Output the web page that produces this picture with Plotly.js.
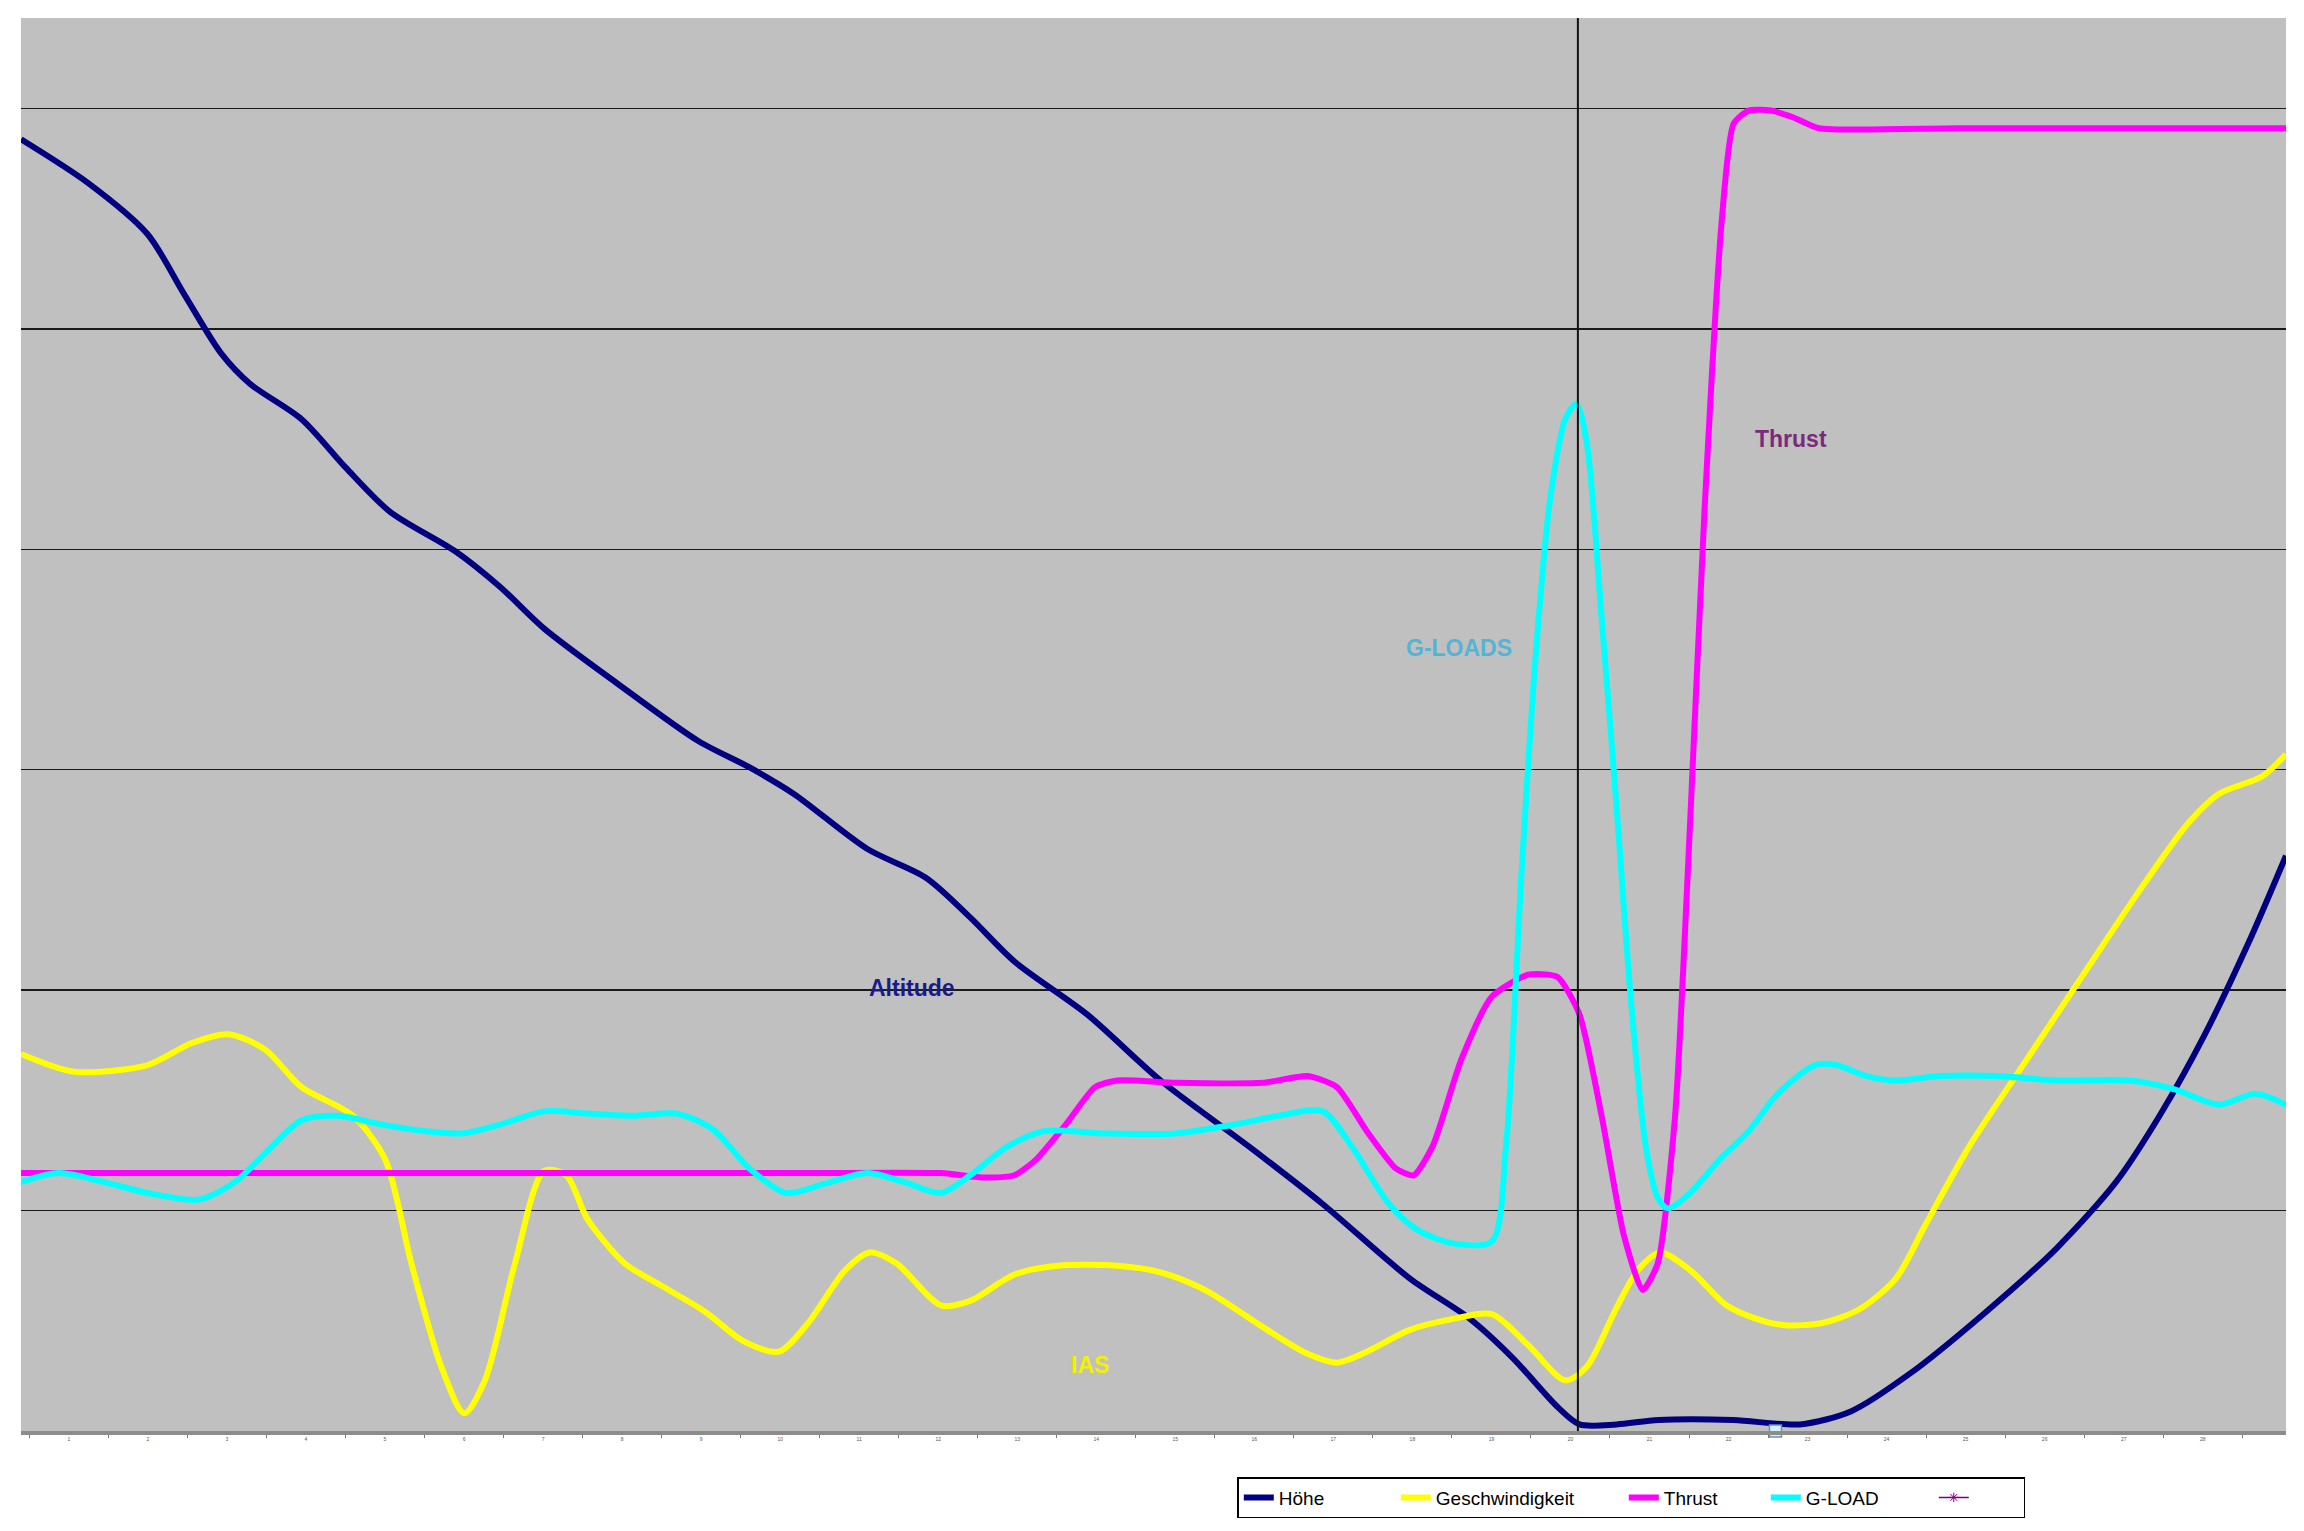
<!DOCTYPE html>
<html>
<head>
<meta charset="utf-8">
<script src="https://cdn.plot.ly/plotly-3.0.1.min.js"></script>
<style>html,body{margin:0;padding:0;background:#fff;}#chart{width:2304px;height:1531px;}</style>
</head>
<body>
<div id="chart"></div>
<script>
// ---- data (x = sample index, y = normalised chart units) ----
const altX = [0,0.855,1.60,2.06,2.53,2.90,3.55,4.11,4.67,5.50,6.06,6.62,7.55,8.57,9.22,9.78,10.71,11.45,12.01,12.57,13.49,14.42,15.54,16.47,17.58,18.33,18.88,19.44,19.72,20.19,20.72,21.67,22.51,23.16,23.90,24.83,25.76,26.51,27.06,27.62,28.18,28.66];
const altY = [5.86,5.66,5.43,5.16,4.89,4.75,4.59,4.37,4.17,3.99,3.83,3.64,3.39,3.13,3.01,2.89,2.64,2.51,2.33,2.13,1.89,1.59,1.29,1.03,0.69,0.51,0.33,0.11,0.03,0.03,0.05,0.05,0.03,0.09,0.26,0.53,0.83,1.13,1.43,1.79,2.21,2.61];

const iasX = [0,0.67,1.60,2.16,2.62,3.09,3.55,4.20,4.61,4.94,5.32,5.61,5.87,6.25,6.62,6.90,7.17,7.64,8.10,8.66,9.13,9.59,9.96,10.43,10.74,11.08,11.64,12.01,12.57,13.12,13.87,14.42,14.98,15.72,16.28,16.65,17.03,17.58,18.14,18.61,19.07,19.54,19.81,20.19,20.46,20.74,21.12,21.58,21.95,22.32,22.79,23.25,23.72,24.09,24.65,25.39,26.13,26.88,27.43,27.81,28.36,28.66];
const iasY = [1.71,1.63,1.66,1.76,1.80,1.73,1.56,1.43,1.23,0.76,0.29,0.08,0.23,0.76,1.18,1.16,0.96,0.76,0.66,0.54,0.41,0.36,0.49,0.73,0.81,0.76,0.57,0.59,0.71,0.75,0.75,0.72,0.64,0.47,0.35,0.31,0.36,0.46,0.51,0.53,0.39,0.23,0.29,0.56,0.73,0.81,0.73,0.57,0.51,0.48,0.49,0.55,0.69,0.93,1.29,1.69,2.09,2.49,2.76,2.89,2.97,3.07];

const thrustX = [0,1.6,3.6,5.6,7.6,9.6,11.64,12.19,12.57,12.84,13.22,13.59,13.87,14.61,15.72,16.28,16.65,17.03,17.40,17.62,17.86,18.23,18.61,19.07,19.44,19.72,20.00,20.28,20.52,20.71,20.93,21.12,21.30,21.52,21.67,21.86,22.14,22.42,22.75,24.5,26.5,28.66];
const thrustY = [1.17,1.17,1.17,1.17,1.17,1.17,1.17,1.15,1.16,1.23,1.39,1.56,1.59,1.58,1.58,1.61,1.56,1.36,1.19,1.16,1.29,1.69,1.97,2.07,2.06,1.89,1.43,0.89,0.64,0.76,1.43,2.76,4.16,5.49,5.93,5.99,5.99,5.96,5.91,5.91,5.91,5.91];

const gX = [0,0.48,1.04,1.60,2.25,2.71,3.09,3.55,4.01,4.57,5.13,5.59,6.06,6.62,7.17,7.73,8.29,8.75,9.22,9.68,10.15,10.71,11.17,11.64,12.01,12.48,12.94,13.68,14.61,15.35,15.91,16.47,16.84,17.31,17.68,18.14,18.61,18.79,18.98,19.16,19.35,19.54,19.68,19.81,20.00,20.19,20.37,20.56,20.71,20.84,21.12,21.49,21.86,22.23,22.70,22.97,23.35,23.72,24.28,25.02,25.76,26.69,27.25,27.81,28.27,28.66];
const gY = [1.13,1.17,1.13,1.08,1.05,1.13,1.26,1.41,1.43,1.39,1.36,1.35,1.39,1.45,1.44,1.43,1.44,1.37,1.19,1.08,1.12,1.17,1.13,1.08,1.16,1.29,1.36,1.35,1.35,1.39,1.43,1.45,1.29,1.03,0.91,0.85,0.86,1.29,2.49,3.49,4.23,4.59,4.66,4.49,3.69,2.83,1.96,1.29,1.06,1.01,1.08,1.23,1.36,1.53,1.66,1.66,1.61,1.59,1.61,1.61,1.59,1.59,1.55,1.48,1.53,1.48];

const seriesNames = ["Höhe", "Geschwindigkeit", "Thrust", "G-LOAD", ""];
const tickBounds = Array.from({length: 29}, (_, k) => 0.106 + k);
const labelPos = Array.from({length: 28}, (_, k) => 0.606 + k);
const labelText = labelPos.map((_, k) => String(k + 1));
const markerX = [22.2];
const markerY = [0];
const cursorX = 19.70;

const font = "Liberation Sans, Arial, sans-serif";
const sm = 0.8;

const traces = [
  {x: altX, y: altY, name: seriesNames[0], legendwidth: 112, mode: "lines", line: {color: "#000080", width: 6, shape: "spline", smoothing: sm}},
  {x: iasX, y: iasY, name: seriesNames[1], legendwidth: 183, mode: "lines", line: {color: "#FFFF00", width: 6, shape: "spline", smoothing: sm}},
  {x: thrustX, y: thrustY, name: seriesNames[2], legendwidth: 97, mode: "lines", line: {color: "#FF00FF", width: 6, shape: "spline", smoothing: 0.6}},
  {x: gX, y: gY, name: seriesNames[3], legendwidth: 123, mode: "lines", line: {color: "#00FFFF", width: 6, shape: "spline", smoothing: sm}},
  {x: [null], y: [null], name: seriesNames[4], legendwidth: 45, mode: "lines+markers", line: {color: "#800080", width: 1.5}, marker: {symbol: "asterisk-open", size: 8, color: "#800080", line: {color: "#800080", width: 1}}},
  {x: markerX, y: markerY, mode: "markers", showlegend: false, cliponaxis: false, marker: {symbol: "square", size: 12, color: "#D4F2F6", line: {color: "#6F90AE", width: 1.5}}}
];

const layout = {
  width: 2304, height: 1531,
  margin: {l: 21, r: 18, t: 18, b: 100},
  paper_bgcolor: "#FFFFFF",
  plot_bgcolor: "#C0C0C0",
  font: {family: font, color: "#000"},
  showlegend: true,
  legend: {
    orientation: "h", x: 0.537, xanchor: "left", y: -0.0326, yanchor: "top",
    bgcolor: "#FFFFFF", bordercolor: "#000000", borderwidth: 1.5,
    font: {family: font, size: 19, color: "#000"}, traceorder: "normal"
  },
  xaxis: {
    range: [0, 28.66], showgrid: false, zeroline: false,
    showline: true, linecolor: "#8C8C8C", linewidth: 4,
    tickmode: "array", tickvals: labelPos, ticktext: labelText, ticks: "",
    tickfont: {size: 5, color: "#556"},
    minor: {tickmode: "array", tickvals: tickBounds, ticks: "outside", ticklen: 3, tickcolor: "#777", tickwidth: 1, showgrid: false}
  },
  yaxis: {
    range: [0, 6.41], dtick: 1, tick0: 0, showticklabels: false, ticks: "",
    showgrid: true, gridcolor: "#1A1A1A", gridwidth: 1.5, zeroline: false, showline: false
  },
  shapes: [
    {type: "line", xref: "x", yref: "paper", x0: cursorX, x1: cursorX, y0: 0, y1: 1, line: {color: "#111", width: 2}}
  ],
  annotations: [
    {x: 11.28, y: 2.01, text: "<b>Altitude</b>", showarrow: false, font: {family: font, size: 23, color: "#1A1A8C"}},
    {x: 18.20, y: 3.55, text: "<b>G-LOADS</b>", showarrow: false, font: {family: font, size: 23, color: "#52B4D6"}},
    {x: 22.40, y: 4.50, text: "<b>Thrust</b>", showarrow: false, font: {family: font, size: 23, color: "#7B2A7B"}},
    {x: 13.53, y: 0.30, text: "<b>IAS</b>", showarrow: false, font: {family: font, size: 23, color: "#F2F200"}}
  ]
};

Plotly.newPlot("chart", traces, layout, {displayModeBar: false, staticPlot: true});
</script>
</body>
</html>
